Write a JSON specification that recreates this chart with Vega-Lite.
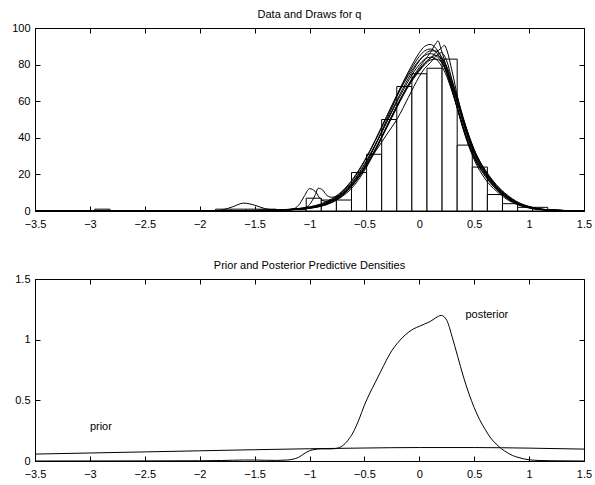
{
 "$schema": "https://vega.github.io/schema/vega-lite/v6.json",
 "padding": {"left": 11, "top": 8, "right": 8, "bottom": 5},
 "background": "white",
 "bounds": "flush",
 "spacing": 68,
 "config": {
  "view": {"stroke": "black", "strokeWidth": 1},
  "axis": {"grid": false, "domain": false, "tickColor": "black", "tickSize": -5, "labelPadding": 10, "labelColor": "black", "labelFont": "Liberation Sans", "labelFontSize": 11, "labelFlush": false, "labelOverlap": false, "title": null},
  "axisBottom": {"labelPadding": 12},
  "title": {"font": "Liberation Sans", "fontSize": 11, "fontWeight": "normal", "color": "black"}
 },
 "datasets": {
  "hist": [
   {"x0": -2.955, "x1": -2.8175, "n": 1},
   {"x0": -2.8175, "x1": -2.68, "n": 0},
   {"x0": -2.68, "x1": -2.5425, "n": 0},
   {"x0": -2.5425, "x1": -2.405, "n": 0},
   {"x0": -2.405, "x1": -2.2675, "n": 0},
   {"x0": -2.2675, "x1": -2.13, "n": 0},
   {"x0": -2.13, "x1": -1.9925, "n": 0},
   {"x0": -1.9925, "x1": -1.855, "n": 0},
   {"x0": -1.855, "x1": -1.7175, "n": 1},
   {"x0": -1.7175, "x1": -1.58, "n": 1},
   {"x0": -1.58, "x1": -1.4425, "n": 1},
   {"x0": -1.4425, "x1": -1.305, "n": 1},
   {"x0": -1.305, "x1": -1.1675, "n": 0},
   {"x0": -1.1675, "x1": -1.03, "n": 1},
   {"x0": -1.03, "x1": -0.8925, "n": 7},
   {"x0": -0.8925, "x1": -0.755, "n": 6},
   {"x0": -0.755, "x1": -0.6175, "n": 6},
   {"x0": -0.6175, "x1": -0.48, "n": 21},
   {"x0": -0.48, "x1": -0.3425, "n": 31},
   {"x0": -0.3425, "x1": -0.205, "n": 50},
   {"x0": -0.205, "x1": -0.0675, "n": 68},
   {"x0": -0.0675, "x1": 0.07, "n": 75},
   {"x0": 0.07, "x1": 0.2075, "n": 78},
   {"x0": 0.2075, "x1": 0.345, "n": 83},
   {"x0": 0.345, "x1": 0.4825, "n": 36},
   {"x0": 0.4825, "x1": 0.62, "n": 24},
   {"x0": 0.62, "x1": 0.7575, "n": 9},
   {"x0": 0.7575, "x1": 0.895, "n": 4},
   {"x0": 0.895, "x1": 1.0325, "n": 2},
   {"x0": 1.0325, "x1": 1.17, "n": 2}
  ],
  "draws": [
   {"d":1,"x":-3.5,"y":0},{"d":1,"x":-2,"y":0.05},{"d":1,"x":-1.8,"y":0.1},{"d":1,"x":-1.6,"y":0.15},{"d":1,"x":-1.4,"y":0.3},{"d":1,"x":-1.2,"y":0.6},{"d":1,"x":-1.1,"y":1.0},{"d":1,"x":-1,"y":1.6},{"d":1,"x":-0.9,"y":2.7},{"d":1,"x":-0.8,"y":4.8},{"d":1,"x":-0.7,"y":8.5},{"d":1,"x":-0.6,"y":14.5},{"d":1,"x":-0.5,"y":23},{"d":1,"x":-0.4,"y":33.5},{"d":1,"x":-0.3,"y":45.5},{"d":1,"x":-0.2,"y":57.5},{"d":1,"x":-0.1,"y":69},{"d":1,"x":-0.05,"y":74},{"d":1,"x":0,"y":78.5},{"d":1,"x":0.05,"y":82.5},{"d":1,"x":0.1,"y":86.5},{"d":1,"x":0.15,"y":91.5},{"d":1,"x":0.17,"y":93},{"d":1,"x":0.2,"y":88},{"d":1,"x":0.25,"y":78},{"d":1,"x":0.3,"y":67},{"d":1,"x":0.35,"y":56},{"d":1,"x":0.4,"y":46},{"d":1,"x":0.5,"y":30},{"d":1,"x":0.6,"y":20},{"d":1,"x":0.7,"y":12.5},{"d":1,"x":0.8,"y":7},{"d":1,"x":0.9,"y":3.8},{"d":1,"x":1,"y":1.9},{"d":1,"x":1.2,"y":0.4},{"d":1,"x":1.5,"y":0.05},
   {"d":2,"x":-3.5,"y":0},{"d":2,"x":-2,"y":0.03},{"d":2,"x":-1.8,"y":0.08},{"d":2,"x":-1.6,"y":0.15},{"d":2,"x":-1.4,"y":0.3},{"d":2,"x":-1.2,"y":0.6},{"d":2,"x":-1.1,"y":0.9},{"d":2,"x":-1,"y":1.5},{"d":2,"x":-0.9,"y":2.5},{"d":2,"x":-0.8,"y":4.5},{"d":2,"x":-0.7,"y":8},{"d":2,"x":-0.6,"y":13.5},{"d":2,"x":-0.5,"y":22},{"d":2,"x":-0.4,"y":33},{"d":2,"x":-0.3,"y":45.5},{"d":2,"x":-0.2,"y":58},{"d":2,"x":-0.1,"y":68.5},{"d":2,"x":-0.05,"y":73},{"d":2,"x":0,"y":77},{"d":2,"x":0.05,"y":80.5},{"d":2,"x":0.1,"y":83.5},{"d":2,"x":0.15,"y":86.5},{"d":2,"x":0.2,"y":89},{"d":2,"x":0.23,"y":90.5},{"d":2,"x":0.25,"y":88},{"d":2,"x":0.3,"y":76},{"d":2,"x":0.35,"y":62},{"d":2,"x":0.4,"y":50},{"d":2,"x":0.5,"y":32},{"d":2,"x":0.6,"y":21},{"d":2,"x":0.7,"y":13},{"d":2,"x":0.8,"y":7.5},{"d":2,"x":0.9,"y":4},{"d":2,"x":1,"y":2},{"d":2,"x":1.2,"y":0.5},{"d":2,"x":1.5,"y":0.05},
   {"d":3,"x":-3.5,"y":0},{"d":3,"x":-2,"y":0.05},{"d":3,"x":-1.8,"y":0.1},{"d":3,"x":-1.6,"y":0.2},{"d":3,"x":-1.4,"y":0.4},{"d":3,"x":-1.2,"y":0.8},{"d":3,"x":-1.1,"y":1.3},{"d":3,"x":-1,"y":2.1},{"d":3,"x":-0.9,"y":3.5},{"d":3,"x":-0.8,"y":6},{"d":3,"x":-0.7,"y":10.5},{"d":3,"x":-0.6,"y":17.5},{"d":3,"x":-0.5,"y":27},{"d":3,"x":-0.4,"y":38.5},{"d":3,"x":-0.3,"y":51},{"d":3,"x":-0.2,"y":64},{"d":3,"x":-0.1,"y":76},{"d":3,"x":-0.05,"y":81.5},{"d":3,"x":0,"y":86.5},{"d":3,"x":0.05,"y":90},{"d":3,"x":0.1,"y":91},{"d":3,"x":0.15,"y":89},{"d":3,"x":0.2,"y":84},{"d":3,"x":0.25,"y":76},{"d":3,"x":0.3,"y":66},{"d":3,"x":0.35,"y":55.5},{"d":3,"x":0.4,"y":45},{"d":3,"x":0.5,"y":29},{"d":3,"x":0.6,"y":19},{"d":3,"x":0.7,"y":12},{"d":3,"x":0.8,"y":7},{"d":3,"x":0.9,"y":3.7},{"d":3,"x":1,"y":1.9},{"d":3,"x":1.2,"y":0.45},{"d":3,"x":1.5,"y":0.05},
   {"d":4,"x":-3.5,"y":0},{"d":4,"x":-2,"y":0.05},{"d":4,"x":-1.8,"y":0.1},{"d":4,"x":-1.6,"y":0.2},{"d":4,"x":-1.4,"y":0.35},{"d":4,"x":-1.2,"y":0.7},{"d":4,"x":-1.1,"y":1.1},{"d":4,"x":-1,"y":1.9},{"d":4,"x":-0.9,"y":3.2},{"d":4,"x":-0.8,"y":5.8},{"d":4,"x":-0.7,"y":10},{"d":4,"x":-0.6,"y":16.5},{"d":4,"x":-0.5,"y":25.5},{"d":4,"x":-0.4,"y":36.5},{"d":4,"x":-0.3,"y":48.5},{"d":4,"x":-0.2,"y":61},{"d":4,"x":-0.1,"y":72.5},{"d":4,"x":-0.05,"y":77.5},{"d":4,"x":0,"y":82},{"d":4,"x":0.05,"y":85.5},{"d":4,"x":0.1,"y":87.5},{"d":4,"x":0.15,"y":87.5},{"d":4,"x":0.2,"y":84.5},{"d":4,"x":0.25,"y":78},{"d":4,"x":0.3,"y":69},{"d":4,"x":0.35,"y":59},{"d":4,"x":0.4,"y":48.5},{"d":4,"x":0.5,"y":32},{"d":4,"x":0.6,"y":21.5},{"d":4,"x":0.7,"y":13.5},{"d":4,"x":0.8,"y":8},{"d":4,"x":0.9,"y":4.3},{"d":4,"x":1,"y":2.2},{"d":4,"x":1.2,"y":0.55},{"d":4,"x":1.5,"y":0.06},
   {"d":5,"x":-3.5,"y":0},{"d":5,"x":-2,"y":0.06},{"d":5,"x":-1.8,"y":0.12},{"d":5,"x":-1.6,"y":0.25},{"d":5,"x":-1.4,"y":0.45},{"d":5,"x":-1.2,"y":0.9},{"d":5,"x":-1.1,"y":1.4},{"d":5,"x":-1,"y":2.3},{"d":5,"x":-0.9,"y":3.8},{"d":5,"x":-0.8,"y":6.6},{"d":5,"x":-0.7,"y":11},{"d":5,"x":-0.6,"y":18},{"d":5,"x":-0.5,"y":27.5},{"d":5,"x":-0.4,"y":39},{"d":5,"x":-0.3,"y":51.5},{"d":5,"x":-0.2,"y":63.5},{"d":5,"x":-0.1,"y":74},{"d":5,"x":-0.05,"y":78.5},{"d":5,"x":0,"y":82.5},{"d":5,"x":0.05,"y":85},{"d":5,"x":0.1,"y":86},{"d":5,"x":0.15,"y":85},{"d":5,"x":0.2,"y":81.5},{"d":5,"x":0.25,"y":75.5},{"d":5,"x":0.3,"y":67.5},{"d":5,"x":0.35,"y":58.5},{"d":5,"x":0.4,"y":49},{"d":5,"x":0.5,"y":33},{"d":5,"x":0.6,"y":22.5},{"d":5,"x":0.7,"y":14.5},{"d":5,"x":0.8,"y":8.8},{"d":5,"x":0.9,"y":4.8},{"d":5,"x":1,"y":2.5},{"d":5,"x":1.2,"y":0.6},{"d":5,"x":1.5,"y":0.07},
   {"d":6,"x":-3.5,"y":0},{"d":6,"x":-2,"y":0.04},{"d":6,"x":-1.8,"y":0.09},{"d":6,"x":-1.6,"y":0.18},{"d":6,"x":-1.4,"y":0.35},{"d":6,"x":-1.2,"y":0.7},{"d":6,"x":-1.1,"y":1.1},{"d":6,"x":-1,"y":1.8},{"d":6,"x":-0.9,"y":3.0},{"d":6,"x":-0.8,"y":5.2},{"d":6,"x":-0.7,"y":9},{"d":6,"x":-0.6,"y":15},{"d":6,"x":-0.5,"y":23.5},{"d":6,"x":-0.4,"y":34},{"d":6,"x":-0.3,"y":46},{"d":6,"x":-0.2,"y":58},{"d":6,"x":-0.1,"y":69},{"d":6,"x":-0.05,"y":73.5},{"d":6,"x":0,"y":77.5},{"d":6,"x":0.05,"y":81},{"d":6,"x":0.1,"y":83.5},{"d":6,"x":0.15,"y":85},{"d":6,"x":0.2,"y":83.5},{"d":6,"x":0.25,"y":79},{"d":6,"x":0.3,"y":71},{"d":6,"x":0.35,"y":61.5},{"d":6,"x":0.4,"y":51},{"d":6,"x":0.5,"y":33.5},{"d":6,"x":0.6,"y":22},{"d":6,"x":0.7,"y":14},{"d":6,"x":0.8,"y":8.3},{"d":6,"x":0.9,"y":4.5},{"d":6,"x":1,"y":2.3},{"d":6,"x":1.2,"y":0.55},{"d":6,"x":1.5,"y":0.06},
   {"d":7,"x":-3.5,"y":0},{"d":7,"x":-2,"y":0.04},{"d":7,"x":-1.8,"y":0.08},{"d":7,"x":-1.6,"y":0.15},{"d":7,"x":-1.4,"y":0.3},{"d":7,"x":-1.2,"y":0.7},{"d":7,"x":-1.15,"y":1.1},{"d":7,"x":-1.1,"y":3.1},{"d":7,"x":-1.05,"y":7.8},{"d":7,"x":-1,"y":12.2},{"d":7,"x":-0.95,"y":10.8},{"d":7,"x":-0.9,"y":6.6},{"d":7,"x":-0.85,"y":5.2},{"d":7,"x":-0.8,"y":5.8},{"d":7,"x":-0.7,"y":9.5},{"d":7,"x":-0.6,"y":16},{"d":7,"x":-0.5,"y":25},{"d":7,"x":-0.4,"y":36},{"d":7,"x":-0.3,"y":48},{"d":7,"x":-0.2,"y":60},{"d":7,"x":-0.1,"y":71},{"d":7,"x":-0.05,"y":76},{"d":7,"x":0,"y":80},{"d":7,"x":0.05,"y":83},{"d":7,"x":0.1,"y":84},{"d":7,"x":0.15,"y":83},{"d":7,"x":0.2,"y":79.5},{"d":7,"x":0.25,"y":73.5},{"d":7,"x":0.3,"y":65},{"d":7,"x":0.35,"y":55.5},{"d":7,"x":0.4,"y":45.5},{"d":7,"x":0.5,"y":29.5},{"d":7,"x":0.6,"y":19.5},{"d":7,"x":0.7,"y":12},{"d":7,"x":0.8,"y":7},{"d":7,"x":0.9,"y":3.7},{"d":7,"x":1,"y":1.8},{"d":7,"x":1.2,"y":0.4},{"d":7,"x":1.5,"y":0.04},
   {"d":8,"x":-3.5,"y":0},{"d":8,"x":-2,"y":0.04},{"d":8,"x":-1.8,"y":0.08},{"d":8,"x":-1.6,"y":0.15},{"d":8,"x":-1.4,"y":0.3},{"d":8,"x":-1.2,"y":0.6},{"d":8,"x":-1.1,"y":1.0},{"d":8,"x":-1.05,"y":1.6},{"d":8,"x":-1,"y":3.5},{"d":8,"x":-0.95,"y":8.5},{"d":8,"x":-0.92,"y":12.4},{"d":8,"x":-0.88,"y":11.5},{"d":8,"x":-0.85,"y":9},{"d":8,"x":-0.8,"y":7.5},{"d":8,"x":-0.75,"y":8},{"d":8,"x":-0.7,"y":9.5},{"d":8,"x":-0.6,"y":15},{"d":8,"x":-0.5,"y":23},{"d":8,"x":-0.4,"y":33.5},{"d":8,"x":-0.3,"y":45},{"d":8,"x":-0.2,"y":57},{"d":8,"x":-0.1,"y":68},{"d":8,"x":-0.05,"y":72.5},{"d":8,"x":0,"y":76.5},{"d":8,"x":0.05,"y":80},{"d":8,"x":0.1,"y":82.5},{"d":8,"x":0.15,"y":83},{"d":8,"x":0.2,"y":81.5},{"d":8,"x":0.25,"y":77},{"d":8,"x":0.3,"y":69.5},{"d":8,"x":0.35,"y":60.5},{"d":8,"x":0.4,"y":50.5},{"d":8,"x":0.5,"y":33.5},{"d":8,"x":0.6,"y":22},{"d":8,"x":0.7,"y":14},{"d":8,"x":0.8,"y":8.2},{"d":8,"x":0.9,"y":4.4},{"d":8,"x":1,"y":2.2},{"d":8,"x":1.2,"y":0.5},{"d":8,"x":1.5,"y":0.05},
   {"d":9,"x":-3.5,"y":0},{"d":9,"x":-2,"y":0.05},{"d":9,"x":-1.85,"y":0.2},{"d":9,"x":-1.8,"y":0.5},{"d":9,"x":-1.7,"y":2.3},{"d":9,"x":-1.6,"y":4.3},{"d":9,"x":-1.5,"y":3.2},{"d":9,"x":-1.4,"y":1.2},{"d":9,"x":-1.3,"y":0.6},{"d":9,"x":-1.2,"y":0.7},{"d":9,"x":-1.1,"y":1.1},{"d":9,"x":-1,"y":1.8},{"d":9,"x":-0.9,"y":3.0},{"d":9,"x":-0.8,"y":5.4},{"d":9,"x":-0.7,"y":9.2},{"d":9,"x":-0.6,"y":15.5},{"d":9,"x":-0.5,"y":23.5},{"d":9,"x":-0.4,"y":32.5},{"d":9,"x":-0.3,"y":41.5},{"d":9,"x":-0.2,"y":50.5},{"d":9,"x":-0.1,"y":62},{"d":9,"x":-0.05,"y":68},{"d":9,"x":0,"y":73.5},{"d":9,"x":0.05,"y":78},{"d":9,"x":0.1,"y":81},{"d":9,"x":0.15,"y":84.5},{"d":9,"x":0.2,"y":86.5},{"d":9,"x":0.25,"y":82},{"d":9,"x":0.3,"y":71},{"d":9,"x":0.35,"y":59},{"d":9,"x":0.4,"y":48},{"d":9,"x":0.5,"y":31},{"d":9,"x":0.6,"y":20.5},{"d":9,"x":0.7,"y":13},{"d":9,"x":0.8,"y":7.5},{"d":9,"x":0.9,"y":4},{"d":9,"x":1,"y":2},{"d":9,"x":1.2,"y":0.5},{"d":9,"x":1.5,"y":0.05},
   {"d":10,"x":-3.5,"y":0},{"d":10,"x":-2,"y":0.03},{"d":10,"x":-1.8,"y":0.06},{"d":10,"x":-1.6,"y":0.12},{"d":10,"x":-1.4,"y":0.25},{"d":10,"x":-1.2,"y":0.55},{"d":10,"x":-1.1,"y":0.9},{"d":10,"x":-1,"y":1.5},{"d":10,"x":-0.9,"y":2.6},{"d":10,"x":-0.8,"y":4.8},{"d":10,"x":-0.7,"y":8.6},{"d":10,"x":-0.6,"y":14.8},{"d":10,"x":-0.5,"y":24},{"d":10,"x":-0.4,"y":36},{"d":10,"x":-0.3,"y":49.5},{"d":10,"x":-0.2,"y":63},{"d":10,"x":-0.1,"y":75},{"d":10,"x":-0.05,"y":80},{"d":10,"x":0,"y":84.5},{"d":10,"x":0.05,"y":87.5},{"d":10,"x":0.1,"y":88.5},{"d":10,"x":0.15,"y":87},{"d":10,"x":0.2,"y":82.5},{"d":10,"x":0.25,"y":75},{"d":10,"x":0.3,"y":65.5},{"d":10,"x":0.35,"y":55},{"d":10,"x":0.4,"y":44.5},{"d":10,"x":0.5,"y":28},{"d":10,"x":0.6,"y":17.5},{"d":10,"x":0.7,"y":11},{"d":10,"x":0.8,"y":6.3},{"d":10,"x":0.9,"y":3.3},{"d":10,"x":1,"y":1.6},{"d":10,"x":1.2,"y":0.35},{"d":10,"x":1.5,"y":0.04}
  ],
  "dens": [
   {"s":"prior","x":-3.5,"y":0.057},{"s":"prior","x":-3,"y":0.066},{"s":"prior","x":-2.5,"y":0.075},{"s":"prior","x":-2,"y":0.084},{"s":"prior","x":-1.5,"y":0.093},{"s":"prior","x":-1,"y":0.101},{"s":"prior","x":-0.5,"y":0.107},{"s":"prior","x":0,"y":0.111},{"s":"prior","x":0.5,"y":0.111},{"s":"prior","x":1,"y":0.106},{"s":"prior","x":1.5,"y":0.098},
   {"s":"posterior","x":-3.5,"y":0},{"s":"posterior","x":-2.5,"y":0.001},{"s":"posterior","x":-2,"y":0.002},{"s":"posterior","x":-1.8,"y":0.004},{"s":"posterior","x":-1.6,"y":0.008},{"s":"posterior","x":-1.5,"y":0.008},{"s":"posterior","x":-1.4,"y":0.006},{"s":"posterior","x":-1.3,"y":0.005},{"s":"posterior","x":-1.2,"y":0.008},{"s":"posterior","x":-1.15,"y":0.015},{"s":"posterior","x":-1.1,"y":0.03},{"s":"posterior","x":-1.05,"y":0.06},{"s":"posterior","x":-1,"y":0.085},{"s":"posterior","x":-0.95,"y":0.095},{"s":"posterior","x":-0.9,"y":0.1},{"s":"posterior","x":-0.85,"y":0.1},{"s":"posterior","x":-0.8,"y":0.1},{"s":"posterior","x":-0.75,"y":0.105},{"s":"posterior","x":-0.7,"y":0.125},{"s":"posterior","x":-0.65,"y":0.17},{"s":"posterior","x":-0.6,"y":0.24},{"s":"posterior","x":-0.55,"y":0.34},{"s":"posterior","x":-0.5,"y":0.46},{"s":"posterior","x":-0.45,"y":0.56},{"s":"posterior","x":-0.4,"y":0.65},{"s":"posterior","x":-0.35,"y":0.74},{"s":"posterior","x":-0.3,"y":0.83},{"s":"posterior","x":-0.25,"y":0.91},{"s":"posterior","x":-0.2,"y":0.97},{"s":"posterior","x":-0.15,"y":1.02},{"s":"posterior","x":-0.1,"y":1.06},{"s":"posterior","x":-0.05,"y":1.09},{"s":"posterior","x":0,"y":1.11},{"s":"posterior","x":0.05,"y":1.13},{"s":"posterior","x":0.1,"y":1.15},{"s":"posterior","x":0.15,"y":1.18},{"s":"posterior","x":0.2,"y":1.2},{"s":"posterior","x":0.25,"y":1.16},{"s":"posterior","x":0.3,"y":1.02},{"s":"posterior","x":0.35,"y":0.86},{"s":"posterior","x":0.4,"y":0.7},{"s":"posterior","x":0.45,"y":0.56},{"s":"posterior","x":0.5,"y":0.44},{"s":"posterior","x":0.55,"y":0.34},{"s":"posterior","x":0.6,"y":0.26},{"s":"posterior","x":0.65,"y":0.19},{"s":"posterior","x":0.7,"y":0.14},{"s":"posterior","x":0.75,"y":0.1},{"s":"posterior","x":0.8,"y":0.07},{"s":"posterior","x":0.85,"y":0.045},{"s":"posterior","x":0.9,"y":0.03},{"s":"posterior","x":0.95,"y":0.018},{"s":"posterior","x":1,"y":0.01},{"s":"posterior","x":1.1,"y":0.004},{"s":"posterior","x":1.2,"y":0.002},{"s":"posterior","x":1.5,"y":0}
  ],
  "labels": [
   {"x": -3.0, "y": 0.28, "t": "prior"},
   {"x": 0.42, "y": 1.2, "t": "posterior"}
  ]
 },
 "vconcat": [
  {
   "width": 549, "height": 183,
   "title": {"text": "Data and Draws for q", "offset": 2},
   "resolve": {"axis": {"x": "independent", "y": "independent"}},
   "layer": [
    {
     "data": {"name": "hist"},
     "mark": {"type": "rect", "fill": "white", "stroke": "black", "strokeWidth": 1},
     "encoding": {
      "x": {"field": "x0", "type": "quantitative", "scale": {"domain": [-3.5, 1.5], "nice": false, "zero": false},
            "axis": {"orient": "bottom", "values": [-3.5, -3, -2.5, -2, -1.5, -1, -0.5, 0, 0.5, 1, 1.5], "format": ".2~f"}},
      "x2": {"field": "x1"},
      "y": {"field": "n", "type": "quantitative", "scale": {"domain": [0, 100], "nice": false},
            "axis": {"orient": "left", "values": [0, 20, 40, 60, 80, 100]}},
      "y2": {"datum": 0}
     }
    },
    {
     "data": {"name": "draws"},
     "mark": {"type": "line", "stroke": "black", "strokeWidth": 1, "interpolate": "monotone"},
     "encoding": {
      "x": {"field": "x", "type": "quantitative", "scale": {"domain": [-3.5, 1.5], "nice": false, "zero": false},
            "axis": {"orient": "top", "labels": false, "values": [-3.5, -3, -2.5, -2, -1.5, -1, -0.5, 0, 0.5, 1, 1.5]}},
      "y": {"field": "y", "type": "quantitative", "scale": {"domain": [0, 100], "nice": false},
            "axis": {"orient": "right", "labels": false, "values": [0, 20, 40, 60, 80, 100]}},
      "detail": {"field": "d", "type": "nominal"}
     }
    }
   ]
  },
  {
   "width": 549, "height": 182,
   "title": {"text": "Prior and Posterior Predictive Densities", "offset": 2},
   "resolve": {"axis": {"x": "independent", "y": "independent"}},
   "layer": [
    {
     "data": {"name": "dens"},
     "mark": {"type": "line", "stroke": "black", "strokeWidth": 1, "interpolate": "monotone"},
     "encoding": {
      "x": {"field": "x", "type": "quantitative", "scale": {"domain": [-3.5, 1.5], "nice": false, "zero": false},
            "axis": {"orient": "bottom", "values": [-3.5, -3, -2.5, -2, -1.5, -1, -0.5, 0, 0.5, 1, 1.5], "format": ".2~f"}},
      "y": {"field": "y", "type": "quantitative", "scale": {"domain": [0, 1.5], "nice": false},
            "axis": {"orient": "left", "values": [0, 0.5, 1, 1.5], "format": ".2~f"}},
      "detail": {"field": "s", "type": "nominal"}
     }
    },
    {
     "data": {"name": "dens"},
     "mark": {"type": "line", "strokeOpacity": 0},
     "encoding": {
      "x": {"field": "x", "type": "quantitative", "scale": {"domain": [-3.5, 1.5], "nice": false, "zero": false},
            "axis": {"orient": "top", "labels": false, "values": [-3.5, -3, -2.5, -2, -1.5, -1, -0.5, 0, 0.5, 1, 1.5]}},
      "y": {"field": "y", "type": "quantitative", "scale": {"domain": [0, 1.5], "nice": false},
            "axis": {"orient": "right", "labels": false, "values": [0, 0.5, 1, 1.5]}},
      "detail": {"field": "s", "type": "nominal"}
     }
    },
    {
     "data": {"name": "labels"},
     "mark": {"type": "text", "align": "left", "baseline": "middle", "font": "Liberation Sans", "fontSize": 11, "color": "black"},
     "encoding": {
      "x": {"field": "x", "type": "quantitative", "scale": {"domain": [-3.5, 1.5], "nice": false, "zero": false}, "axis": null},
      "y": {"field": "y", "type": "quantitative", "scale": {"domain": [0, 1.5], "nice": false}, "axis": null},
      "text": {"field": "t"}
     }
    }
   ]
  }
 ]
}
